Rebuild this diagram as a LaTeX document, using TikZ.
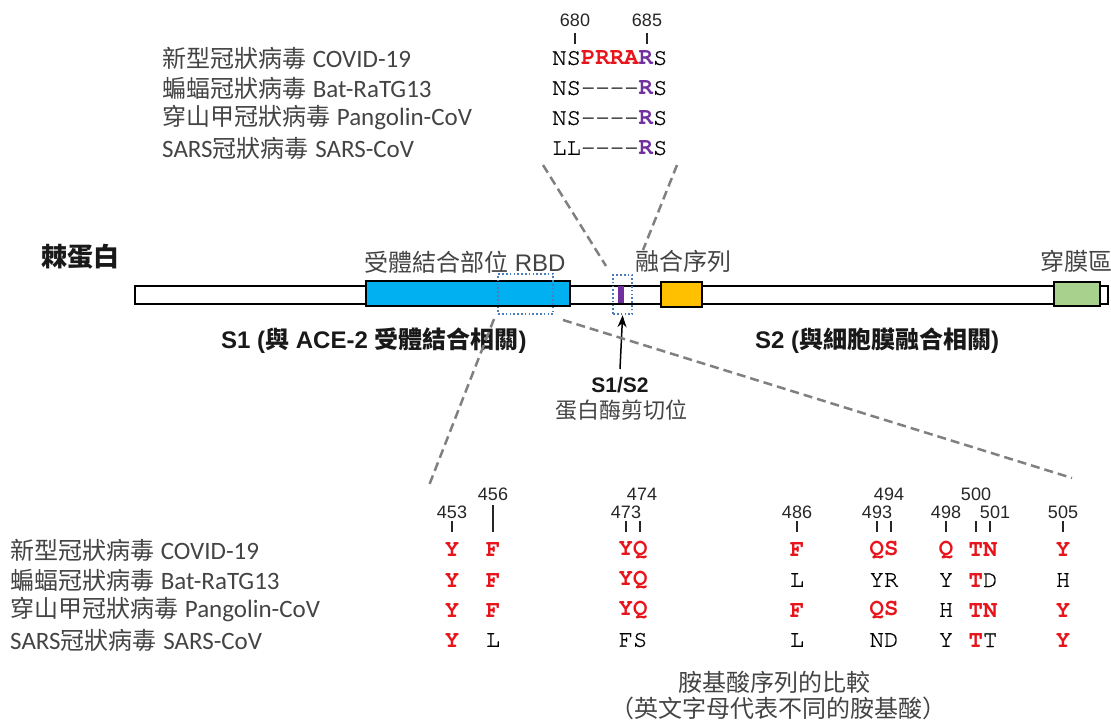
\documentclass[tikz,border=0pt]{standalone}
\usepackage{fontspec}
\setmainfont{Liberation Sans}
\newfontfamily\cjk{Noto Sans CJK TC}
\newfontfamily\calib{Carlito}
\newfontfamily\mono[UprightFeatures={FakeBold=0.7}]{TeX Gyre Cursor}
\usetikzlibrary{arrows.meta}
\definecolor{txt}{HTML}{444444}
\definecolor{seqred}{HTML}{E8141B}
\definecolor{purp}{HTML}{7030A0}
\definecolor{rbdblue}{HTML}{00B0F0}
\definecolor{fusorange}{HTML}{FFC000}
\definecolor{tmgreen}{HTML}{A9D18E}
\definecolor{dotblue}{HTML}{4A7EBB}
\definecolor{dashgray}{HTML}{808080}
\newcommand{\rd}[1]{\textcolor{seqred}{\bfseries #1}}
\newcommand{\pu}[1]{\textcolor{purp}{\bfseries #1}}
\newcommand{\lt}[1]{{\calib\fontsize{25}{28}\selectfont #1}}
\begin{document}
\begin{tikzpicture}[x=1pt,y=-1pt,
  lab/.style={font=\fontsize{24}{28}\selectfont, text=txt, inner sep=0pt, anchor=west},
  seq/.style={font=\mono\fontsize{24}{28}\selectfont, text=black, inner sep=0pt},
  num/.style={font=\fontsize{18}{20}\selectfont, text=black!85, inner sep=0pt},
  tick/.style={line width=1.2pt, black!85},
  zoomline/.style={draw=dashgray, line width=2.5pt, dash pattern=on 9pt off 5pt},
  dotbox/.style={draw=dotblue, line width=2.2pt, dash pattern=on 1.6pt off 2.2pt, inner sep=0pt, anchor=north west},
  bartxt/.style={font=\fontsize{24}{28}\selectfont, text=txt, inner sep=0pt},
  boldtxt/.style={font=\bfseries\fontsize{24}{28}\selectfont, text=black!90, inner sep=0pt},
  seg/.style={draw=black, line width=1.8pt, inner sep=0pt, anchor=north west}
]
\path[use as bounding box] (0,0) rectangle (1111,722);

% ---------- top table (cleavage site) ----------
\node[lab] (t1) at (162,58) {{\cjk 新型冠狀病毒} \lt{COVID-19}};
\node[lab] (t2) at (162,88) {{\cjk 蝙蝠冠狀病毒} \lt{Bat-RaTG13}};
\node[lab] (t3) at (162,118) {{\cjk 穿山甲冠狀病毒} \lt{Pangolin-CoV}};
\node[lab] (t4) at (162,148) {\lt{SARS}{\cjk 冠狀病毒} \lt{SARS-CoV}};

\node[seq, anchor=west] (q1) at (552,58) {NS\rd{PRRA}\pu{R}S};
\node[seq, anchor=west] (q2) at (552,88) {NS-{}-{}-{}-\pu{R}S};
\node[seq, anchor=west] (q3) at (552,118) {NS-{}-{}-{}-\pu{R}S};
\node[seq, anchor=west] (q4) at (552,148) {LL-{}-{}-{}-\pu{R}S};

\node[num] (n680) at (575,20) {680};
\node[num] (n685) at (647,20) {685};
\draw[tick] (575,33) -- (575,44);
\draw[tick] (647,33) -- (647,44);

% ---------- spike bar ----------
\node[seg, fill=white, minimum width=973pt, minimum height=18pt] (bar) at (134,285) {};
\node[seg, fill=rbdblue, minimum width=204pt, minimum height=25pt] (rbd) at (365,280) {};
\node[draw=none, fill=purp, inner sep=0pt, anchor=north west, minimum width=6pt, minimum height=17pt] (cut) at (618,285.5) {};
\node[seg, fill=fusorange, minimum width=41pt, minimum height=25pt] (fus) at (660,281) {};
\node[seg, fill=tmgreen, minimum width=46pt, minimum height=24pt] (tm) at (1053,281) {};
\node[dotbox, minimum width=55pt, minimum height=40pt] (rbdbox) at (497,273) {};
\node[dotbox, minimum width=19pt, minimum height=39pt] (cutbox) at (612,274) {};

\node[boldtxt, anchor=west] (spike) at (41,257) {\fontsize{26}{28}\selectfont\cjk 棘蛋白};
\node[bartxt, anchor=west] (rbdlab) at (364,262) {{\cjk 受體結合部位} RBD};
\node[bartxt, anchor=west] (fuslab) at (635,261) {\cjk 融合序列};
\node[bartxt, anchor=west] (tmlab) at (1040,261) {\cjk 穿膜區};
\node[boldtxt, anchor=west] (s1) at (221,341) {S1 ({\cjk 與} ACE-2 {\cjk 受體結合相關})};
\node[boldtxt, anchor=west] (s2) at (755,341) {S2 ({\cjk 與細胞膜融合相關})};
\node[boldtxt, font=\bfseries\fontsize{21}{24}\selectfont] (s1s2) at (620,385) {S1/S2};
\node[bartxt, font=\fontsize{22}{26}\selectfont] (cleave) at (621,410) {\cjk 蛋白酶剪切位};
\draw[-{Stealth[length=12pt,width=9pt]}, line width=1.5pt] ([yshift=8pt]s1s2.north) -- (cutbox.south);

% ---------- zoom lines ----------
\coordinate (za1) at (543,165);
\coordinate (za2) at (606,266);
\coordinate (zb1) at (677,165);
\coordinate (zb2) at (643,250);
\coordinate (zc1) at (494,319);
\coordinate (zc2) at (428,488);
\coordinate (zd1) at (563,320);
\coordinate (zd2) at (1072,478);
\draw[zoomline] (za1) -- (za2);
\draw[zoomline] (zb1) -- (zb2);
\draw[zoomline] (zc1) -- (zc2);
\draw[zoomline] (zd1) -- (zd2);

% ---------- bottom table (RBD) ----------
\node[lab] (b1) at (10,550) {{\cjk 新型冠狀病毒} \lt{COVID-19}};
\node[lab] (b2) at (10,580) {{\cjk 蝙蝠冠狀病毒} \lt{Bat-RaTG13}};
\node[lab] (b3) at (10,610) {{\cjk 穿山甲冠狀病毒} \lt{Pangolin-CoV}};
\node[lab] (b4) at (10,640) {\lt{SARS}{\cjk 冠狀病毒} \lt{SARS-CoV}};

% numbers and ticks
\node[num] (m453) at (452,512) {453};
\node[num] (m456) at (493,494) {456};
\node[num] (m473) at (626,512) {473};
\node[num] (m474) at (642,494) {474};
\node[num] (m486) at (797,512) {486};
\node[num] (m493) at (877,512) {493};
\node[num] (m494) at (889,494) {494};
\node[num] (m498) at (946,512) {498};
\node[num] (m500) at (976,494) {500};
\node[num] (m501) at (995,512) {501};
\node[num] (m505) at (1063,512) {505};
\foreach \x in {452,626,640,797,877,891,946,976,990,1063}
  \draw[tick] (\x,521) -- (\x,532);
\draw[tick] (493,505) -- (493,532);

% row 1
\node[seq] (r1a) at (452,550) {\rd{Y}};
\node[seq] (r1b) at (493,550) {\rd{F}};
\node[seq] (r1c) at (633,550) {\rd{YQ}};
\node[seq] (r1d) at (797,550) {\rd{F}};
\node[seq] (r1e) at (884,550) {\rd{QS}};
\node[seq] (r1f) at (946,550) {\rd{Q}};
\node[seq] (r1g) at (983,550) {\rd{TN}};
\node[seq] (r1h) at (1063,550) {\rd{Y}};
% row 2
\node[seq] (r2a) at (452,580) {\rd{Y}};
\node[seq] (r2b) at (493,580) {\rd{F}};
\node[seq] (r2c) at (633,580) {\rd{YQ}};
\node[seq] (r2d) at (797,580) {L};
\node[seq] (r2e) at (884,580) {YR};
\node[seq] (r2f) at (946,580) {Y};
\node[seq] (r2g) at (983,580) {\rd{T}D};
\node[seq] (r2h) at (1063,580) {H};
% row 3
\node[seq] (r3a) at (452,610) {\rd{Y}};
\node[seq] (r3b) at (493,610) {\rd{F}};
\node[seq] (r3c) at (633,610) {\rd{YQ}};
\node[seq] (r3d) at (797,610) {\rd{F}};
\node[seq] (r3e) at (884,610) {\rd{QS}};
\node[seq] (r3f) at (946,610) {H};
\node[seq] (r3g) at (983,610) {\rd{TN}};
\node[seq] (r3h) at (1063,610) {\rd{Y}};
% row 4
\node[seq] (r4a) at (452,640) {\rd{Y}};
\node[seq] (r4b) at (493,640) {L};
\node[seq] (r4c) at (633,640) {FS};
\node[seq] (r4d) at (797,640) {L};
\node[seq] (r4e) at (884,640) {ND};
\node[seq] (r4f) at (946,640) {Y};
\node[seq] (r4g) at (983,640) {\rd{T}T};
\node[seq] (r4h) at (1063,640) {\rd{Y}};

% caption
\node[bartxt] (cap1) at (774,682) {\cjk 胺基酸序列的比較};
\node[bartxt] (cap2) at (778,708) {\cjk （英文字母代表不同的胺基酸）};
\end{tikzpicture}
\end{document}
